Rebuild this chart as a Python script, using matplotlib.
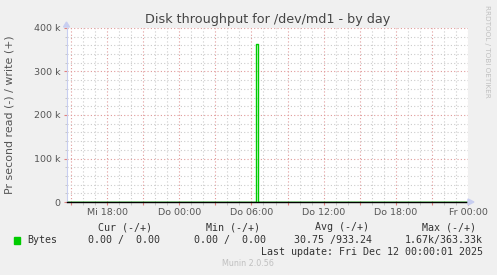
import numpy as np
import matplotlib
matplotlib.use("Agg")
import matplotlib.pyplot as plt
from matplotlib.ticker import MultipleLocator, FuncFormatter

# time in hours relative to Mi 18:00
x_start = -3.33
x_end = 30.0
tick_hours = [0, 6, 12, 18, 24, 30]
tick_labels = ["Mi 18:00", "Do 00:00", "Do 06:00", "Do 12:00", "Do 18:00", "Fr 00:00"]

# write (+) samples, step function
write_hours = [-3.33, 12.42, 12.58, 30.0]
write_bytes = [0, 363330, 0, 0]
# read (-) samples, drawn negative (clipped by the 0 floor)
read_hours = [-3.33, 12.42, 12.58, 30.0]
read_bytes = [0, 1670, 0, 0]

y_max = 400000
legend_cols = ["Cur (-/+)", "Min (-/+)", "Avg (-/+)", "Max (-/+)"]
legend_vals = ["0.00 /  0.00", "0.00 /  0.00", "30.75 /933.24", "1.67k/363.33k"]

W, H = 497, 275
fig = plt.figure(figsize=(W / 100, H / 100), dpi=100, facecolor="#F0F0F0")


def fx(px):
    return px / W


def fy(py):
    return 1 - py / H


ax = fig.add_axes([fx(67), fy(202), fx(468) - fx(67), fy(28) - fy(202)])
ax.set_facecolor("white")

ax.set_xlim(x_start, x_end)
ax.set_ylim(0, y_max)

# grid
ax.xaxis.set_major_locator(MultipleLocator(3))
ax.xaxis.set_minor_locator(MultipleLocator(1))
ax.yaxis.set_major_locator(MultipleLocator(100000))
ax.yaxis.set_minor_locator(MultipleLocator(20000))
ax.grid(which="minor", color="#CCCCCC", linestyle=(0, (1, 2)), linewidth=0.8)
ax.grid(which="major", color="#E09A9A", linestyle=(0, (1, 2)), linewidth=0.8)
ax.set_axisbelow(True)

ax.tick_params(axis="both", which="major", colors="#E08080", length=2.5, width=0.8,
               labelcolor="#555555", labelsize=6.8)
ax.tick_params(axis="both", which="minor", colors="#C0C0C0", length=1.8, width=0.6)
ax.tick_params(axis="x", which="major", pad=2)
ax.tick_params(axis="y", which="major", pad=2)

# only label every 6 hours
ax.xaxis.set_major_formatter(FuncFormatter(
    lambda v, p: tick_labels[tick_hours.index(int(round(v)))] if int(round(v)) in tick_hours and abs(v - round(v)) < 1e-6 else ""))
ax.yaxis.set_major_formatter(FuncFormatter(lambda v, p: "0" if v == 0 else "%d k" % (v / 1000)))

for s in ["top", "right", "bottom"]:
    ax.spines[s].set_visible(False)
ax.spines["left"].set_color("#C8CEF0")
ax.spines["left"].set_linewidth(0.8)

# data lines
ax.plot(read_hours, -np.array(read_bytes), drawstyle="steps-post", color="#00CC00", linewidth=1)
ax.plot(write_hours, write_bytes, drawstyle="steps-post", color="#00CC00", linewidth=1)

# zero rule
ax.axhline(0, color="black", linewidth=1, clip_on=False, zorder=5)

# axis arrows
fig.patches.append(plt.Polygon([[fx(468), fy(199)], [fx(474), fy(202)], [fx(468), fy(205)]],
                               closed=True, color="#C8CEF0", transform=fig.transFigure))
fig.patches.append(plt.Polygon([[fx(63.5), fy(27)], [fx(66.5), fy(22)], [fx(69.5), fy(27)]],
                               closed=True, color="#C8CEF0", transform=fig.transFigure))

# texts
fig.text(fx(268), fy(19), "Disk throughput for /dev/md1 - by day", ha="center", va="center",
         fontsize=9.2, color="#444444", family="DejaVu Sans")
fig.text(fx(10), fy(115), "Pr second read (-) / write (+)", ha="center", va="center",
         rotation=90, fontsize=7.9, color="#555555", family="DejaVu Sans")
fig.text(fx(487), fy(5), "RRDTOOL / TOBI OETIKER", ha="center", va="top", rotation=-90,
         fontsize=5.2, color="#C0C0C0", family="DejaVu Sans")

mono = dict(family="DejaVu Sans Mono", fontsize=7.2, color="#333333", va="center")
col_x = [125, 233, 342, 449]
for cx, lab in zip(col_x, legend_cols):
    fig.text(fx(cx), fy(227), lab, ha="center", **mono)

fig.patches.append(plt.Rectangle((fx(14), fy(243.5)), fx(6), fy(237) - fy(243.5),
                                 color="#00CC00", transform=fig.transFigure))
fig.text(fx(27), fy(240), "Bytes", ha="left", **mono)
val_right = [160, 266, 372, 483]
for rx, v in zip(val_right, legend_vals):
    fig.text(fx(rx), fy(240), v, ha="right", **mono)

fig.text(fx(483), fy(252), "Last update: Fri Dec 12 00:00:01 2025", ha="right", **mono)
fig.text(fx(248), fy(264), "Munin 2.0.56", ha="center", va="center", fontsize=5.8,
         color="#C0C0C0", family="DejaVu Sans")

fig.savefig("out.png", dpi=100, facecolor=fig.get_facecolor())
